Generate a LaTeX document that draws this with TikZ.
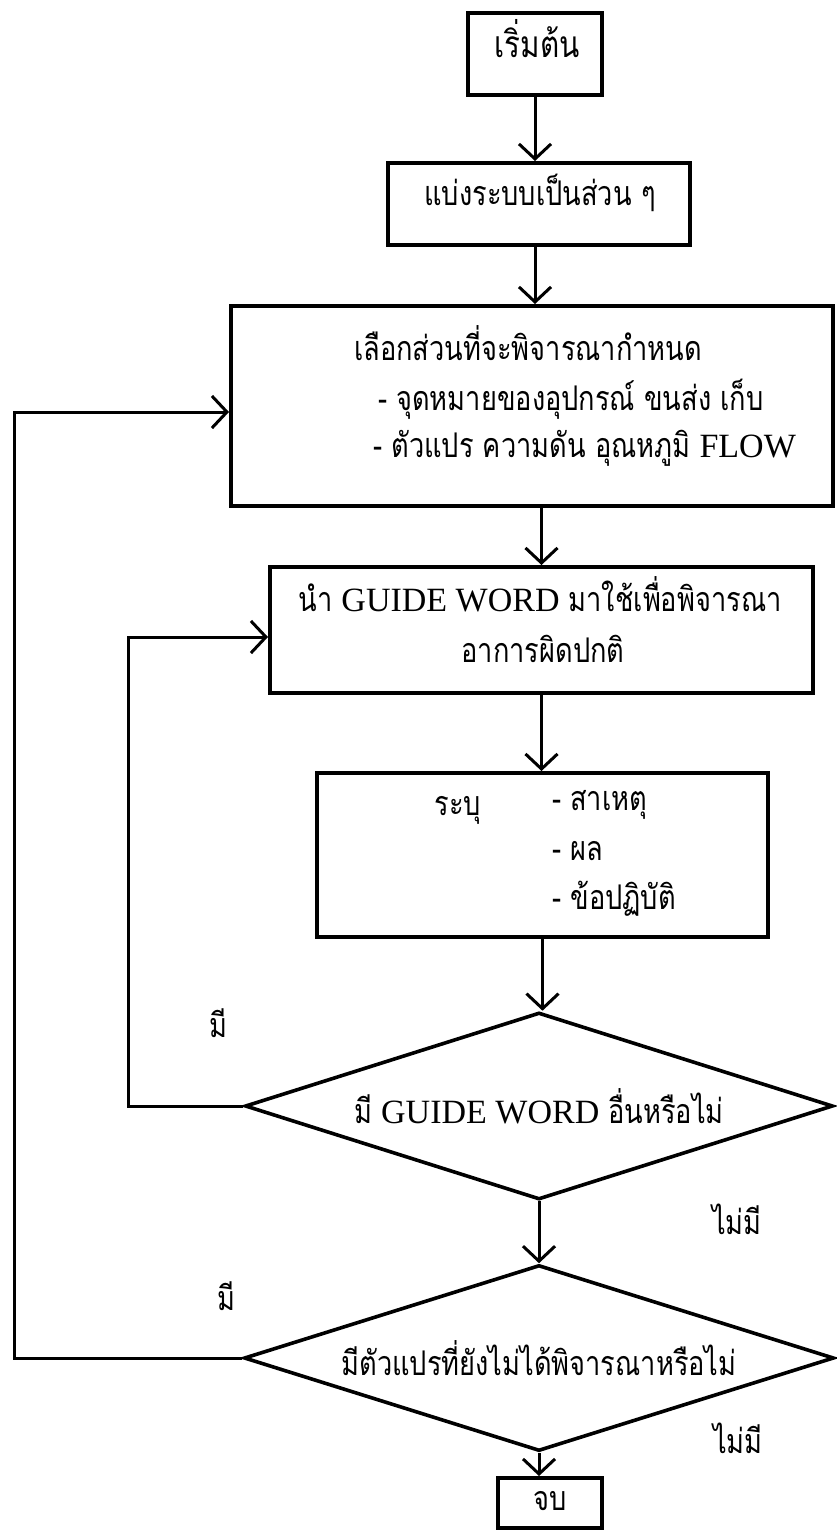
\documentclass[tikz,border=0pt]{standalone}
\usepackage{fontspec}
\setmainfont{Liberation Serif}
\newfontfamily\thaif[Script=Thai,FakeStretch=0.8]{Loma}
\usetikzlibrary{arrows.meta,shapes.geometric}
\newcommand\latw[1]{{\rmfamily #1}}
\newcommand\thfs{\thaif\fontsize{34}{38}\selectfont}
\newcommand\thfsbig{\thaif\fontsize{37}{41}\selectfont}
\tikzset{
  box/.style={draw, line width=4pt, inner sep=0pt, font=\thfs},
  dia/.style={draw, diamond, line width=3.6pt, inner sep=0pt, shape aspect=3.15, font=\thfs},
  txt/.style={inner sep=0pt, font=\thfs},
  lbl/.style={inner sep=0pt, font=\thfs},
  arr/.style={line width=3pt, -{Straight Barb[length=15pt,width=32pt,line width=3pt]}}
}
\begin{document}
\begin{tikzpicture}[x=1pt,y=-1pt]
\useasboundingbox (0,0) rectangle (836,1531);
\fill[white] (0,0) rectangle (836,1531);
% boxes
\node[box, minimum width=134pt, minimum height=82pt] (start) at (535,54) {};
\node[txt, font=\thfsbig, anchor=mid] (tstart) at (537,55) {เริ่มต้น};
\node[box, minimum width=302pt, minimum height=82pt] (box2) at (539,204) {};
\node[txt, anchor=mid] (tbox2) at (540,203) {แบ่งระบบเป็นส่วน ๆ};
\node[box, minimum width=602pt, minimum height=200pt] (box3) at (532,406) {};
\node[txt, anchor=mid west] (t3a) at (354,358) {เลือกส่วนที่จะพิจารณากำหนด};
\node[txt, anchor=mid west] (t3b) at (378,408) {- จุดหมายของอุปกรณ์ ขนส่ง เก็บ};
\node[txt, anchor=mid west] (t3c) at (373,455) {- ตัวแปร ความดัน อุณหภูมิ \latw{FLOW}};
\node[box, minimum width=543pt, minimum height=126pt] (box4) at (541.5,630) {};
\node[txt, anchor=mid] (t4a) at (540,609) {นำ \latw{GUIDE WORD} มาใช้เพื่อพิจารณา};
\node[txt, anchor=mid] (t4b) at (543,660) {อาการผิดปกติ};
\node[box, minimum width=451pt, minimum height=164pt] (box5) at (542.5,855) {};
\node[txt, anchor=mid] (t5r) at (458,813) {ระบุ};
\node[txt, anchor=mid west] (t5a) at (552,808) {- สาเหตุ};
\node[txt, anchor=mid west] (t5b) at (552,858) {- ผล};
\node[txt, anchor=mid west] (t5c) at (552,907) {- ข้อปฏิบัติ};
\node[dia, minimum width=588pt, minimum height=187pt] (d1) at (539,1106) {มี \latw{GUIDE WORD} อื่นหรือไม่};
\node[dia, minimum width=590pt, minimum height=186pt] (d2) at (539,1358) {มีตัวแปรที่ยังไม่ได้พิจารณาหรือไม่};
\node[box, minimum width=104pt, minimum height=50pt] (end) at (550,1503) {};
\node[txt, anchor=mid] (tend) at (550,1508) {จบ};
% labels
\node[lbl, anchor=mid] (l1) at (218,1035) {มี};
\node[lbl, anchor=mid] (l2) at (226,1308) {มี};
\node[lbl, anchor=mid] (l3) at (737,1232) {ไม่มี};
\node[lbl, anchor=mid] (l4) at (738,1451) {ไม่มี};
% connectors
\draw[arr] (start.south) -- (start.south |- box2.north);
\draw[arr] (start.south |- box2.south) -- (start.south |- box3.north);
\draw[arr] (box4.north |- box3.south) -- (box4.north);
\draw[arr] (box4.south) -- (box4.south |- box5.north);
\draw[arr] (box5.south) -- (box5.south |- d1.north);
\draw[arr] (d1.south) -- (d2.north);
\draw[arr] (d2.south) -- (d2.south |- end.north);
\coordinate (oc) at (14,412);
\coordinate (ic) at (128,637);
\draw[arr] (d2.west) -| (oc) -- (box3.west |- oc);
\draw[arr] (d1.west) -| (ic) -- (box4.west |- ic);
\end{tikzpicture}
\end{document}
